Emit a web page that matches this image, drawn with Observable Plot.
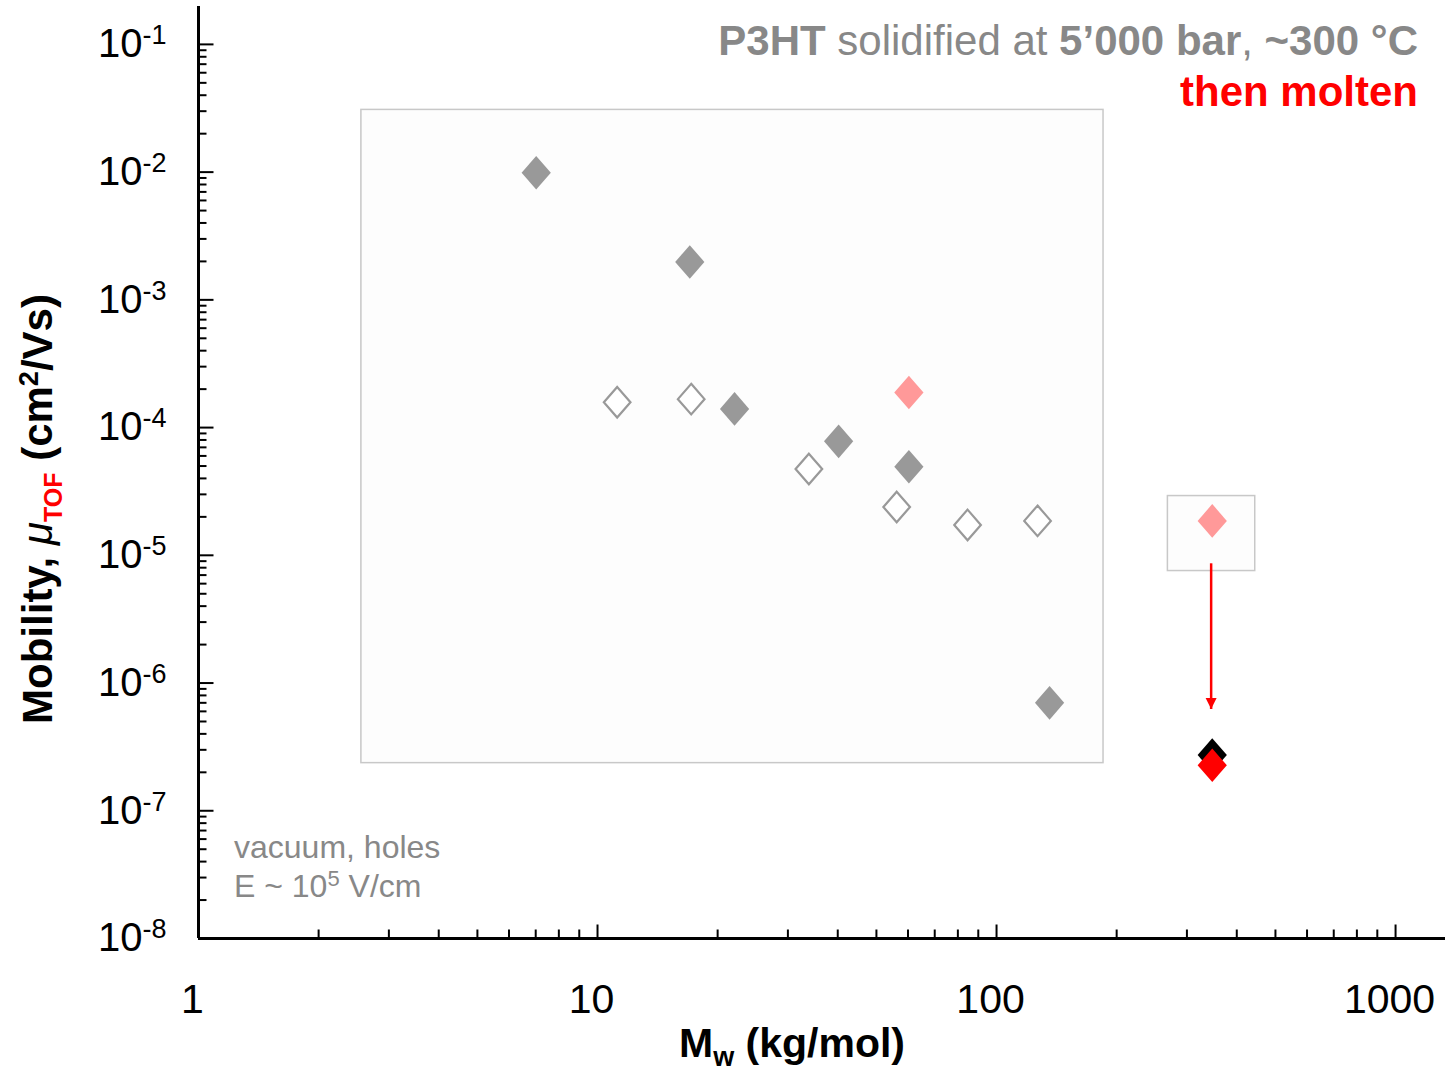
<!DOCTYPE html>
<html><head><meta charset="utf-8">
<script src="https://cdn.jsdelivr.net/npm/d3@7"></script>
<script src="https://cdn.jsdelivr.net/npm/@observablehq/plot@0.6"></script>
<style>html,body{margin:0;padding:0;background:#fff;overflow:hidden}#chart svg{display:block}</style>
</head><body><div id="chart"></div>
<script>
// ---- data (Mw in kg/mol, mobility in cm2/Vs) ----
const filledMw = [7.02, 17.03, 22.05, 40.2, 60.3, 135.8];
const filledMu = [9.9e-3, 1.98e-3, 1.40e-4, 7.8e-5, 4.94e-5, 7.0e-7];
const openMw = [11.2, 17.17, 33.86, 56.2, 84.6, 126.7];
const openMu = [1.58e-4, 1.67e-4, 4.74e-5, 2.39e-5, 1.73e-5, 1.86e-5];
const pinkMw = [60.3, 347.2];
const pinkMu = [1.88e-4, 1.86e-5];
const blackMw = [347.2];
const blackMu = [2.73e-7];
const redMw = [347.2];
const redMu = [2.27e-7];
const arrowMw = [345, 345];
const arrowMu = [8.66e-6, 6.26e-7];
const boxMwLeft = [2.56, 268.8];
const boxMwRight = [185.4, 445.0];
const boxMuTop = [0.0307, 2.91e-5];
const boxMuBottom = [2.36e-7, 7.53e-6];
const xMajor = [1, 10, 100, 1000];
const xLabels = ["1", "10", "100", "1000"];
const yMajor = [1e-8, 1e-7, 1e-6, 1e-5, 1e-4, 1e-3, 1e-2, 1e-1];
const yExponents = ["-8", "-7", "-6", "-5", "-4", "-3", "-2", "-1"];
const minorMultipliers = [2, 3, 4, 5, 6, 7, 8, 9];
const xMinor = [1, 10, 100].flatMap(d => minorMultipliers.map(m => m * d));
const yMinor = yMajor.slice(0, 7).flatMap(d => minorMultipliers.map(m => m * d));

// ---- custom symbols ----
const diamond = {draw(ctx, size) {
  const r = Math.sqrt(size / Math.PI), h = r, w = r * 0.87;
  ctx.moveTo(0, -h); ctx.lineTo(w, 0); ctx.lineTo(0, h); ctx.lineTo(-w, 0); ctx.closePath();
}};
const tickUp = len => ({draw(ctx) { ctx.moveTo(0, 0); ctx.lineTo(0, -len); }});
const tickRight = len => ({draw(ctx) { ctx.moveTo(0, 0); ctx.lineTo(len, 0); }});
const arrowHead = {draw(ctx) { ctx.moveTo(0, 0); ctx.lineTo(5.5, -11); ctx.lineTo(-5.5, -11); ctx.closePath(); }};

const idx = a => a.map((_, i) => i);

const svg = Plot.plot({
  width: 1451, height: 1081,
  marginLeft: 198, marginRight: 6, marginTop: 6, marginBottom: 143,
  x: {type: "log", domain: [1, 1334]},
  y: {type: "log", domain: [1e-8, 0.198]},
  style: {fontFamily: "'Liberation Sans', Arial, Helvetica, sans-serif", background: "white", color: "black"},
  marks: [
    Plot.rect(idx(boxMwLeft), {x1: i => boxMwLeft[i], x2: i => boxMwRight[i], y1: i => boxMuBottom[i], y2: i => boxMuTop[i], fill: "#fdfdfd", stroke: "#c8c8c8", strokeWidth: 1.5}),
    Plot.ruleY([1e-8], {strokeWidth: 3, stroke: "black"}),
    Plot.ruleX([1], {strokeWidth: 3, stroke: "black"}),
    Plot.dot(xMajor.slice(1), {x: d => d, y: () => 1e-8, symbol: tickUp(14), fill: "none", stroke: "black", strokeWidth: 2}),
    Plot.dot(xMinor, {x: d => d, y: () => 1e-8, symbol: tickUp(9), fill: "none", stroke: "black", strokeWidth: 2}),
    Plot.dot(yMajor, {x: () => 1, y: d => d, symbol: tickRight(15), fill: "none", stroke: "black", strokeWidth: 2}),
    Plot.dot(yMinor, {x: () => 1, y: d => d, symbol: tickRight(8), fill: "none", stroke: "black", strokeWidth: 2}),
    Plot.axisX({ticks: xMajor, tickSize: 0, tickPadding: 45, fontSize: 41, dx: -6, tickFormat: d => xLabels[xMajor.indexOf(d)], label: null}),
    Plot.axisY({ticks: yMajor, tickSize: 0, tickPadding: 32, fontSize: 40, tickFormat: d => "10^" + yExponents[yMajor.indexOf(d)], label: null}),
    Plot.dot(idx(filledMw), {x: i => filledMw[i], y: i => filledMu[i], symbol: diamond, r: 16.8, fill: "#999999", stroke: "none"}),
    Plot.dot(idx(openMw), {x: i => openMw[i], y: i => openMu[i], symbol: diamond, r: 15.3, fill: "white", stroke: "#999999", strokeWidth: 2.2}),
    Plot.dot(idx(pinkMw), {x: i => pinkMw[i], y: i => pinkMu[i], symbol: diamond, r: 16.8, fill: "#ff9999", stroke: "none"}),
    Plot.dot(idx(blackMw), {x: i => blackMw[i], y: i => blackMu[i], symbol: diamond, r: 16.8, fill: "black", stroke: "none"}),
    Plot.dot(idx(redMw), {x: i => redMw[i], y: i => redMu[i], symbol: diamond, r: 16.8, fill: "#ff0000", stroke: "none"}),
    Plot.link([0], {x1: () => arrowMw[0], y1: () => arrowMu[0], x2: () => arrowMw[1], y2: () => arrowMu[1], stroke: "#ff0000", strokeWidth: 2.5}),
    Plot.dot([0], {x: () => arrowMw[1], y: () => arrowMu[1], symbol: arrowHead, fill: "#ff0000", stroke: "none"})
  ]
});

const s = d3.select(svg);
// superscript exponents on y tick labels
s.selectAll('g[aria-label="y-axis tick label"] text').each(function () {
  const [base, exp] = this.textContent.split("^");
  const t = d3.select(this);
  t.text(base);
  t.append("tspan").attr("dy", -13).attr("font-size", 27).text(exp);
});

// title
const title = s.append("text").attr("x", 1418).attr("y", 55).attr("text-anchor", "end").attr("font-size", 42).attr("fill", "#888888");
title.append("tspan").attr("font-weight", "bold").text("P3HT");
title.append("tspan").text(" solidified at ");
title.append("tspan").attr("font-weight", "bold").text("5’000 bar");
title.append("tspan").text(", ");
title.append("tspan").attr("font-weight", "bold").text("~300 °C");
s.append("text").attr("x", 1418).attr("y", 106).attr("text-anchor", "end").attr("font-size", 42).attr("font-weight", "bold").attr("fill", "#ff0000").text("then molten");

// conditions note
s.append("text").attr("x", 234).attr("y", 858).attr("text-anchor", "start").attr("font-size", 32).attr("fill", "#888888").text("vacuum, holes");
const e = s.append("text").attr("x", 234).attr("y", 897).attr("text-anchor", "start").attr("font-size", 32).attr("fill", "#888888");
e.append("tspan").text("E ~ 10");
e.append("tspan").attr("dy", -11).attr("font-size", 22).text("5");
e.append("tspan").attr("dy", 11).text(" V/cm");

// x axis label
const xl = s.append("text").attr("x", 792).attr("y", 1057).attr("text-anchor", "middle").attr("font-size", 41).attr("font-weight", "bold").attr("fill", "black");
xl.append("tspan").text("M");
xl.append("tspan").attr("dy", 9).attr("font-size", 27).text("w");
xl.append("tspan").attr("dy", -9).text(" (kg/mol)");

// y axis label
const yl = s.append("text").attr("transform", "translate(52,509) rotate(-90)").attr("text-anchor", "middle").attr("font-size", 42).attr("font-weight", "bold").attr("fill", "black");
yl.append("tspan").text("Mobility, ");
yl.append("tspan").attr("font-style", "italic").attr("font-weight", "normal").text("μ");
yl.append("tspan").attr("dy", 10).attr("font-size", 25).attr("fill", "#ff0000").text("TOF");
yl.append("tspan").attr("dy", -10).text(" (cm");
yl.append("tspan").attr("dy", -14).attr("font-size", 27).text("2");
yl.append("tspan").attr("dy", 14).text("/Vs)");

document.getElementById("chart").appendChild(svg);
</script>
</body></html>
